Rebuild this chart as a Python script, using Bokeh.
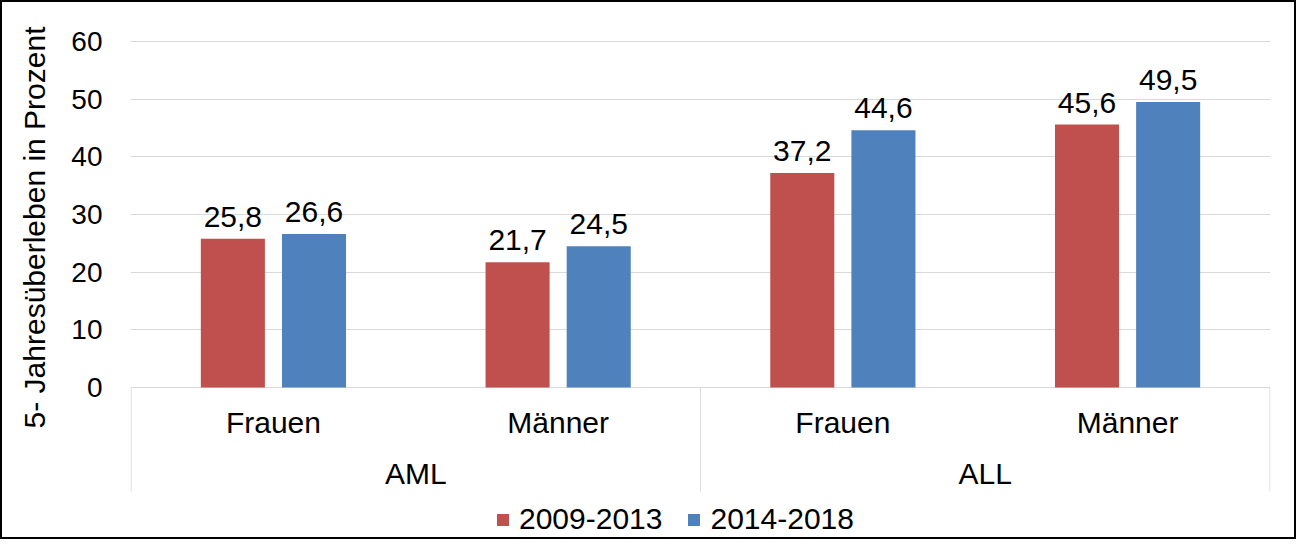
from bokeh.plotting import figure
from bokeh.models import FixedTicker, Legend, LegendItem, Range1d, Title
from bokeh.core.properties import value
from bokeh.embed import file_html
from bokeh.resources import INLINE
import numpy as np

# ---- data ----
groups = ["AML", "ALL"]
subgroups = ["Frauen", "Männer"]
series_names = ["2009-2013", "2014-2018"]
values_2009_2013 = [25.8, 21.7, 37.2, 45.6]
values_2014_2018 = [26.6, 24.5, 44.6, 49.5]
y_ticks = [0, 10, 20, 30, 40, 50, 60]
y_label = "5- Jahresüberleben in Prozent"

colors = ["#C0504D", "#4F81BD"]
FONT = "Liberation Sans"
FS = "30px"

W, H = 1296, 539
px_per_unit = (385 - 39) / 60.0
p = figure(width=W, height=H, output_backend="svg", toolbar_location=None,
           x_axis_location=None, min_border_left=128, min_border_right=28,
           min_border_top=0, min_border_bottom=0,
           x_range=Range1d(-0.002, 4.002),
           y_range=Range1d(-(H - 385) / px_per_unit, 60 + 39 / px_per_unit))
p.outline_line_color = None
p.styles = {"border": "2px solid black"}

# y axis
ya = p.yaxis[0]
ya.ticker = FixedTicker(ticks=y_ticks)
ya.axis_line_color = None
ya.major_tick_line_color = None
ya.minor_tick_line_color = None
ya.major_tick_out = 0
ya.major_tick_in = 0
ya.major_label_standoff = 28
ya.major_label_text_font = FONT
ya.major_label_text_font_size = "28px"
ya.major_label_text_color = "black"

p.ygrid.grid_line_color = "#D9D9D9"
p.ygrid.grid_line_width = 1
p.xgrid.visible = False

# axis title as a side title, anchored near the top like the reference
p.add_layout(Title(text=y_label, align="right", vertical_align="top", offset=24, standoff=31,
                   text_line_height=1.0,
                   text_font=FONT, text_font_size=FS, text_font_style="normal",
                   text_color="black"), "left")

# positions
n_sub = len(groups) * len(subgroups)
centers = np.arange(n_sub) + 0.5
off = 0.1425
bw = 0.225

r1 = p.vbar(x=centers - off, top=values_2009_2013, width=bw, fill_color=colors[0], line_color=None)
r2 = p.vbar(x=centers + off, top=values_2014_2018, width=bw, fill_color=colors[1], line_color=None)

def fmt(v):
    return f"{v:.1f}".replace(".", ",")

for xs, vals in [(centers - off, values_2009_2013), (centers + off, values_2014_2018)]:
    p.text(x=list(xs), y=vals, text=[fmt(v) for v in vals], text_align="center",
           text_baseline="alphabetic", y_offset=-22, text_font=value(FONT),
           text_font_size=value(FS), text_color="black")

# category axis box
y_box_bottom = -104 / px_per_unit
sep_x = [0, 2, 4]
p.segment(x0=sep_x, y0=[0] * 3, x1=sep_x, y1=[y_box_bottom] * 3, line_color="#D9D9D9", line_width=1)

sub_labels = [s for g in groups for s in subgroups]
p.text(x=list(centers), y=[0] * n_sub, text=sub_labels, text_align="center",
       text_baseline="alphabetic", y_offset=35, text_font=value(FONT),
       text_font_size=value(FS), text_color="black")
group_centers = [len(subgroups) * (i + 0.5) for i in range(len(groups))]
p.text(x=group_centers, y=[0] * len(groups), text=groups, text_align="center",
       text_baseline="alphabetic", y_offset=86, text_font=value(FONT),
       text_font_size=value(FS), text_color="black")

legend = Legend(items=[LegendItem(label=series_names[0], renderers=[r1]),
                       LegendItem(label=series_names[1], renderers=[r2])],
                orientation="horizontal", location=(365, 5),
                glyph_width=15, glyph_height=15, label_standoff=9, spacing=24,
                padding=0, margin=0, border_line_color=None, background_fill_alpha=0,
                label_text_font=FONT, label_text_font_size=FS, label_text_color="black")
p.add_layout(legend)

open("out.html", "w").write(file_html(p, INLINE))
